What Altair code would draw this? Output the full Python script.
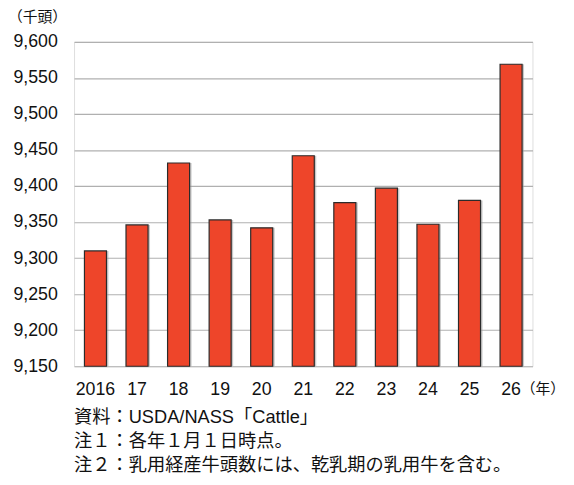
import altair as alt
import pandas as pd

years = ["2016", "17", "18", "19", "20", "21", "22", "23", "24", "25", "26"]
values = [9310, 9346, 9432, 9353, 9342, 9442, 9377, 9397, 9347, 9380, 9569]
y_ticks = [9150, 9200, 9250, 9300, 9350, 9400, 9450, 9500, 9550, 9600]
unit_y = "（千頭）"
unit_x = "（年）"
notes = [
    "資料：USDA/NASS「Cattle」",
    "注１：各年１月１日時点。",
    "注２：乳用経産牛頭数には、乾乳期の乳用牛を含む。",
]

FONT = "Liberation Sans, Arial, Noto Sans CJK JP"

df = pd.DataFrame({"year": years, "value": values})

x = alt.X("year:N", sort=years, title=None,
          scale=alt.Scale(paddingInner=0.47, paddingOuter=0.25),
          axis=alt.Axis(labelAngle=0, ticks=False, domain=False, labelFontSize=18,
                        labelFont=FONT, labelColor="#111", labelPadding=15))
y = alt.Y("value:Q", title=None,
          scale=alt.Scale(domain=[9150, 9600], nice=False, zero=False),
          axis=alt.Axis(values=y_ticks, labelExpr="format(datum.value, ',')",
                        ticks=False, domain=False,
                        labelFontSize=18, labelFont=FONT, labelColor="#111",
                        labelPadding=17, grid=True, gridColor="#b0b0b0",
                        gridWidth=1.2))

base = alt.Chart(df)
shadow = base.mark_bar(color="#9a9a9a", opacity=0.55, xOffset=2, x2Offset=2).encode(
    x=x, y=y, y2=alt.datum(9150))
bars = base.mark_bar(color="#EE452A", stroke="#2b2b2b", strokeWidth=1.2).encode(
    x=x, y=y, y2=alt.datum(9150))


def label(text, xv, yv, size, align="left"):
    d = pd.DataFrame({"t": [text]})
    return alt.Chart(d).mark_text(align=align, baseline="middle", fontSize=size,
                                  font=FONT, color="#111").encode(
        text="t:N", x=alt.value(xv), y=alt.value(yv))


layers = [shadow, bars,
          label(unit_y, -67, -25, 15),
          label(unit_x, 498, 352, 15, align="right")]
for i, n in enumerate(notes):
    layers.append(label(n, 0, 381 + 24 * i, 18.5))

chart = alt.layer(*layers).properties(
    width=465, height=329,
    autosize=alt.AutoSizeParams(type="none"),
    padding={"left": 67, "top": 31, "right": 34, "bottom": 109},
).configure_view(stroke=None).configure(background="white")

chart.save("out.html", embed_options={"renderer": "svg", "actions": False})
